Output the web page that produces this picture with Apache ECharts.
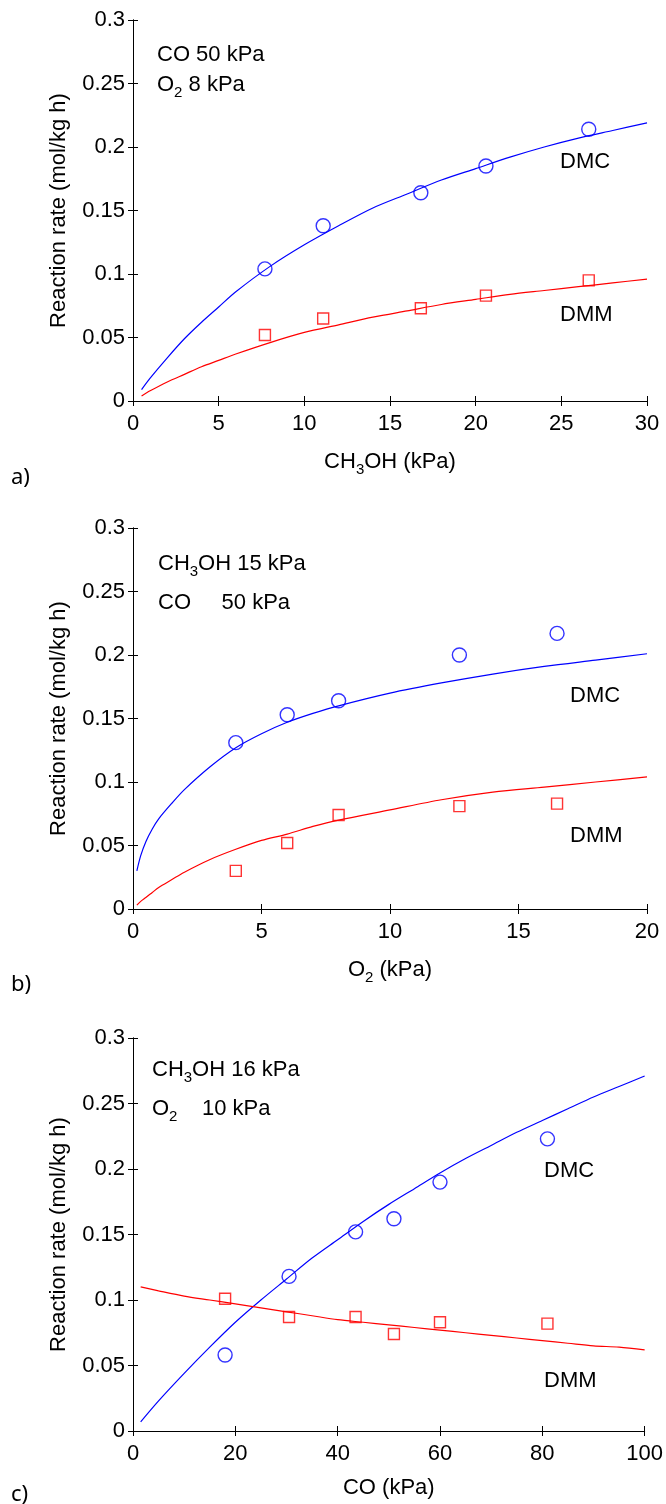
<!DOCTYPE html>
<html>
<head>
<meta charset="utf-8">
<script src="https://cdn.jsdelivr.net/npm/echarts@6/dist/echarts.min.js"></script>
<style>
  html, body { margin: 0; padding: 0; background: #fff; }
  #chart { width: 666px; height: 1504px; }
</style>
</head>
<body>
<div id="chart"></div>
<script>
// measured points
const aX = [7.7, 11.1, 16.8, 20.6, 26.6];
const aDmc = [0.104, 0.138, 0.164, 0.185, 0.214];
const aDmm = [0.052, 0.065, 0.073, 0.083, 0.095];

const bX = [4.0, 6.0, 8.0, 12.7, 16.5];
const bDmc = [0.131, 0.153, 0.164, 0.200, 0.217];
const bDmm = [0.030, 0.052, 0.074, 0.081, 0.083];

const cX = [18, 30.5, 43.5, 51, 60, 81];
const cDmc = [0.058, 0.118, 0.152, 0.162, 0.190, 0.223];
const cDmm = [0.101, 0.087, 0.087, 0.074, 0.083, 0.082];

// model curves
const aFitX = [0.5, 1, 2, 3, 4, 5, 6, 8, 10, 12, 14, 16, 18, 20, 22, 24, 26, 28, 30];
const aDmcFit = [0.009, 0.018, 0.034, 0.049, 0.062, 0.074, 0.086, 0.106, 0.123, 0.138, 0.152, 0.163, 0.174, 0.183, 0.192, 0.200, 0.207, 0.213, 0.219];
const aDmmFit = [0.004, 0.008, 0.015, 0.021, 0.027, 0.032, 0.037, 0.046, 0.054, 0.060, 0.066, 0.071, 0.076, 0.080, 0.084, 0.087, 0.090, 0.093, 0.096];

const bFitX = [0.15, 0.3, 0.5, 0.75, 1, 1.5, 2, 3, 4, 5, 6, 7, 8, 10, 12, 14, 16, 18, 20];
const bDmcFit = [0.030, 0.042, 0.053, 0.063, 0.071, 0.083, 0.094, 0.112, 0.127, 0.138, 0.147, 0.154, 0.160, 0.170, 0.178, 0.185, 0.191, 0.196, 0.201];
const bDmmFit = [0.003, 0.006, 0.009, 0.013, 0.017, 0.023, 0.029, 0.039, 0.047, 0.054, 0.059, 0.065, 0.070, 0.078, 0.086, 0.092, 0.096, 0.100, 0.104];

const cFitX = [1.5, 5, 10, 15, 20, 25, 30, 35, 40, 45, 50, 55, 60, 65, 70, 75, 80, 85, 90, 95, 100];
const cDmcFit = [0.007, 0.023, 0.044, 0.064, 0.083, 0.100, 0.116, 0.132, 0.146, 0.160, 0.173, 0.185, 0.197, 0.208, 0.218, 0.228, 0.237, 0.246, 0.255, 0.263, 0.271];
const cDmmFit = [0.110, 0.107, 0.103, 0.100, 0.097, 0.094, 0.091, 0.088, 0.085, 0.083, 0.081, 0.079, 0.077, 0.075, 0.073, 0.071, 0.069, 0.067, 0.065, 0.064, 0.062];

const yTicks = { min: 0, max: 0.3, interval: 0.05 };

const FONT = "Liberation Sans";
const FS = 22;
const BLUE = "#0000ff";
const RED = "#ff0000";

const pairs = (xs, ys) => xs.map((x, i) => [x, ys[i]]);

const panels = [
  { grid: { left: 133, top: 20, width: 514, height: 381 }, xMax: 30, xInt: 5, xName: "CH{sub|3}OH (kPa)",
    pts: [aX, aDmc, aDmm], fit: [aFitX, aDmcFit, aDmmFit] },
  { grid: { left: 133, top: 528, width: 514, height: 381 }, xMax: 20, xInt: 5, xName: "O{sub|2} (kPa)",
    pts: [bX, bDmc, bDmm], fit: [bFitX, bDmcFit, bDmmFit] },
  { grid: { left: 133, top: 1038, width: 513, height: 393 }, xMax: 100, xInt: 20, xName: "CO (kPa)",
    pts: [cX, cDmc, cDmm], fit: [cFitX, cDmcFit, cDmmFit] }
];

const subRich = {
  sub: { fontFamily: FONT, fontSize: 15, color: "#000", padding: [15, 0, 0, 0] }
};

const grids = [], xAxes = [], yAxes = [], series = [];

panels.forEach((p, i) => {
  grids.push(p.grid);
  const common = {
    gridIndex: i,
    axisLine: { show: true, lineStyle: { color: "#000", width: 1 } },
    axisTick: { show: true, inside: true, length: 5, lineStyle: { color: "#000" } },
    splitLine: { show: false }
  };
  xAxes.push({
    ...common, type: "value", position: "bottom", min: 0, max: p.xMax, interval: p.xInt,
    axisLabel: { color: "#000", fontFamily: FONT, fontSize: FS, margin: 12 },
    name: p.xName, nameLocation: "middle", nameGap: 46,
    nameTextStyle: { color: "#000", fontFamily: FONT, fontSize: FS, rich: subRich }
  });
  xAxes.push({
    ...common, type: "value", position: "top", min: 0, max: p.xMax, interval: p.xInt,
    axisLabel: { show: false }
  });
  yAxes.push({
    ...common, type: "value", position: "left", ...yTicks,
    axisLabel: { color: "#000", fontFamily: FONT, fontSize: FS, margin: 8 },
    name: "Reaction rate (mol/kg h)", nameLocation: "middle", nameGap: 63,
    nameTextStyle: { color: "#000", fontFamily: FONT, fontSize: FS }
  });
  yAxes.push({
    ...common, type: "value", position: "right", ...yTicks,
    axisLabel: { show: false }
  });

  const ax = { xAxisIndex: 2 * i, yAxisIndex: 2 * i };
  series.push({
    ...ax, type: "line", data: pairs(p.fit[0], p.fit[1]), smooth: 0.3,
    showSymbol: false, lineStyle: { color: BLUE, width: 1.2 }, silent: true
  });
  series.push({
    ...ax, type: "line", data: pairs(p.fit[0], p.fit[2]), smooth: 0.3,
    showSymbol: false, lineStyle: { color: RED, width: 1.2 }, silent: true
  });
  series.push({
    ...ax, type: "scatter", data: pairs(p.pts[0], p.pts[1]), symbol: "circle", symbolSize: 14,
    itemStyle: { color: "rgba(0,0,0,0)", borderColor: BLUE, borderWidth: 1.4 }
  });
  series.push({
    ...ax, type: "scatter", data: pairs(p.pts[0], p.pts[2]), symbol: "rect", symbolSize: 11,
    itemStyle: { color: "rgba(0,0,0,0)", borderColor: RED, borderWidth: 1.4 }
  });
});

const txt = (x, y, text, size, family) => ({
  type: "text", x: x, y: y,
  style: {
    text: text, fill: "#000", fontFamily: family || FONT, fontSize: size || FS,
    verticalAlign: "middle", rich: subRich
  }
});

const chart = echarts.init(document.getElementById("chart"), null, { renderer: "canvas" });
chart.setOption({
  animation: false,
  backgroundColor: "#fff",
  grid: grids,
  xAxis: xAxes,
  yAxis: yAxes,
  series: series,
  graphic: [
    txt(157, 55, "CO 50 kPa"),
    txt(157, 85, "O{sub|2} 8 kPa"),
    txt(560, 162, "DMC"),
    txt(560, 315, "DMM"),
    txt(11, 478, "a)", 22, "Noto Sans"),

    txt(158, 564, "CH{sub|3}OH 15 kPa"),
    txt(158, 603, "CO     50 kPa"),
    txt(570, 696, "DMC"),
    txt(570, 836, "DMM"),
    txt(11, 985, "b)", 22, "Noto Sans"),

    txt(152, 1070, "CH{sub|3}OH 16 kPa"),
    txt(152, 1109, "O{sub|2}    10 kPa"),
    txt(544, 1171, "DMC"),
    txt(544, 1381, "DMM"),
    txt(11, 1495, "c)", 22, "Noto Sans")
  ]
});
</script>
</body>
</html>
